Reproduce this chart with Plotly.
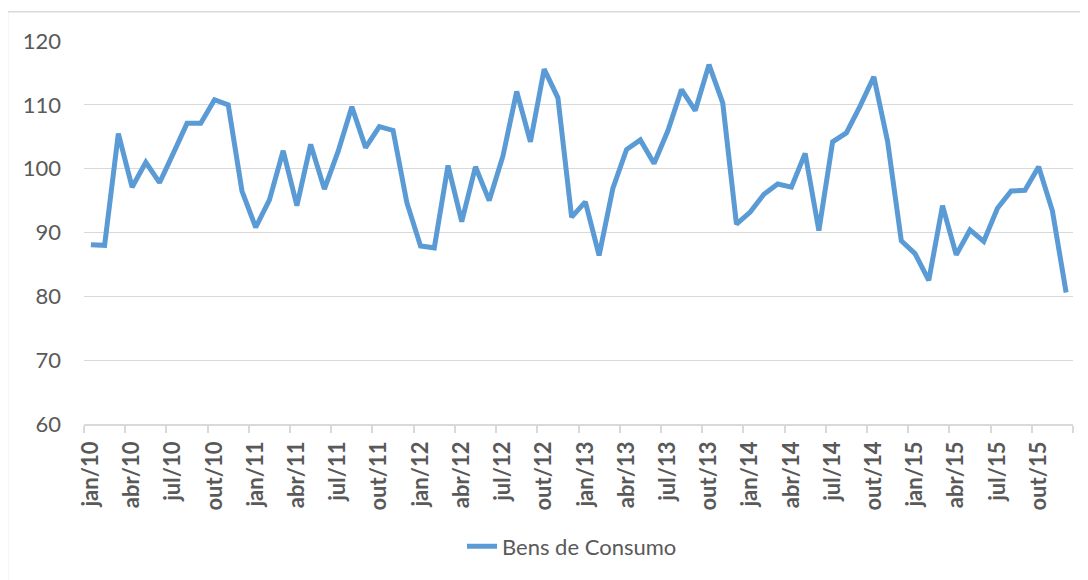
import plotly.graph_objects as go

months_pt = ["jan", "fev", "mar", "abr", "mai", "jun", "jul", "ago", "set", "out", "nov", "dez"]
years = ["10", "11", "12", "13", "14", "15"]
categories = [f"{m}/{y}" for y in years for m in months_pt]

bens_de_consumo = [
    88.1, 88.0, 105.5, 97.1, 101.0, 97.8, 102.4, 107.1, 107.1, 110.8, 110.0, 96.5,
    90.8, 95.1, 102.8, 94.2, 103.8, 96.8, 102.7, 109.7, 103.3, 106.6, 106.0, 94.7,
    87.9, 87.6, 100.5, 91.7, 100.3, 95.0, 102.0, 112.1, 104.2, 115.6, 111.1, 92.4,
    94.8, 86.4, 96.9, 103.0, 104.5, 100.8, 105.9, 112.4, 109.1, 116.3, 110.3, 91.3,
    93.2, 96.0, 97.6, 97.1, 102.4, 90.3, 104.2, 105.6, 109.8, 114.4, 104.3, 88.7,
    86.7, 82.5, 94.2, 86.5, 90.4, 88.6, 93.8, 96.5, 96.6, 100.3, 93.4, 80.6,
]

y_ticks = [60, 70, 80, 90, 100, 110, 120]

FONT = "Lato, 'Open Sans', sans-serif"
GRAY_TXT = "#595959"
GRID = "#D9D9D9"

fig = go.Figure()
fig.add_trace(go.Scatter(
    x=categories, y=bens_de_consumo, mode="lines", name="Bens de Consumo",
    line=dict(color="#5B9BD5", width=5, shape="linear"),
))

OFF = 8  # page body margin
W, H = 1080, 572
L, R, T, B = 84 - OFF, 15, 41 - OFF, 154
pw = W - L - R
ph = H - T - B

fig.update_layout(
    width=W, height=H,
    margin=dict(l=L, r=R, t=T, b=B, pad=0),
    paper_bgcolor="white", plot_bgcolor="white",
    font=dict(family=FONT, color=GRAY_TXT, size=22),
    showlegend=True,
    legend=dict(
        orientation="h", x=(462 - OFF - L) / pw, xanchor="left",
        y=(T + ph - (549 - OFF)) / ph, yanchor="middle",
        font=dict(size=22, color=GRAY_TXT), bgcolor="rgba(0,0,0,0)",
    ),
    xaxis=dict(
        type="category", tickson="boundaries", dtick=3, tick0=0,
        ticks="outside", ticklen=7, tickcolor=GRID, tickwidth=1.5,
        showline=True, linecolor=GRID, linewidth=1.5,
        showgrid=False, tickangle=-90,
        tickfont=dict(family=FONT, size=22, color=GRAY_TXT, weight="bold"),
        ticklabelstandoff=7,
        range=[-0.5, 71.5],
    ),
    yaxis=dict(
        range=[60, 120], tickvals=y_ticks, ticks="",
        showgrid=True, gridcolor=GRID, gridwidth=1.2,
        zeroline=False, showline=False,
        tickfont=dict(family=FONT, size=22, color=GRAY_TXT),
        ticklabelstandoff=22,
    ),
    shapes=[dict(
        type="rect", xref="paper", yref="paper",
        x0=(7.5 - OFF - L) / pw, x1=1.05, y0=-0.6, y1=(T + ph - (11.7 - OFF)) / ph,
        line=dict(color=GRID, width=1.5), fillcolor="rgba(0,0,0,0)", layer="below",
    )],
)

fig.write_html("out.html")
